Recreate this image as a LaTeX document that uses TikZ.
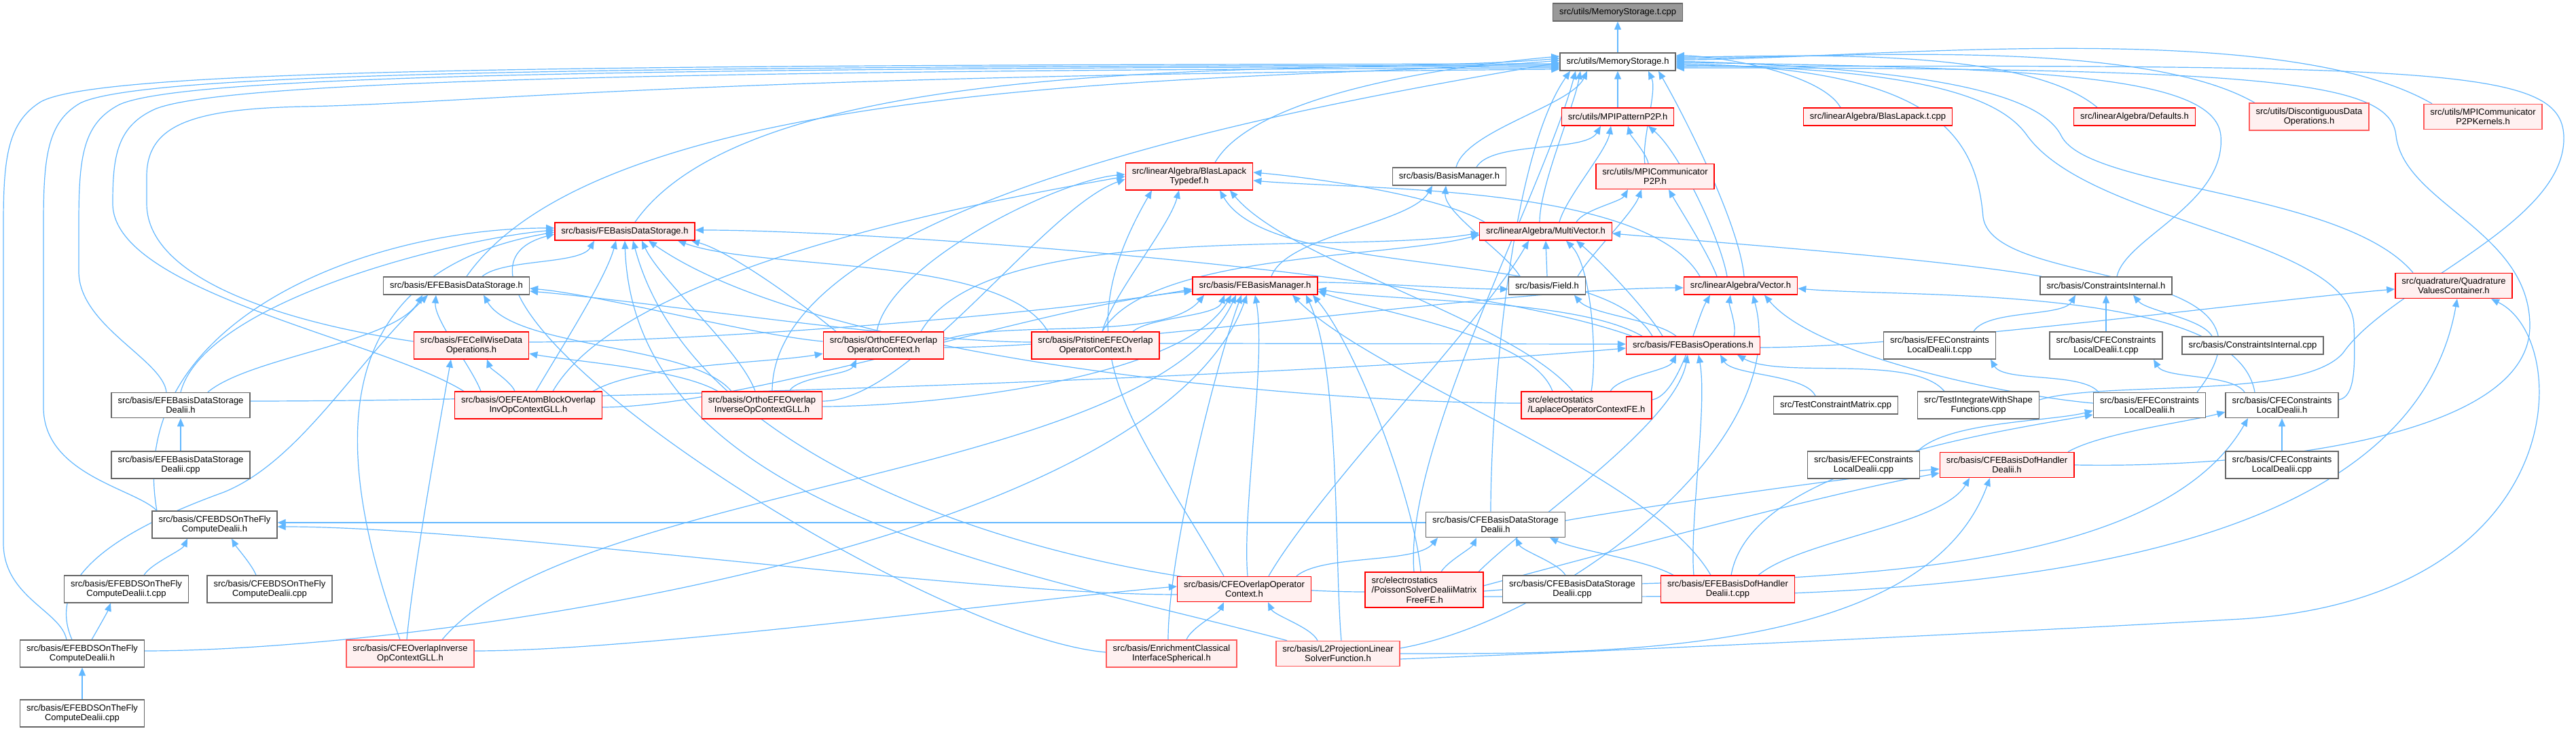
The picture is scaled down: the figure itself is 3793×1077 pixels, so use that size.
\documentclass[tikz,border=0pt]{standalone}
\usepackage{fontspec}
\setmainfont{Liberation Sans}
\usepackage{tikz}
\usetikzlibrary{arrows.meta}
\definecolor{depblue}{HTML}{63B8FF}
\definecolor{boxred}{HTML}{FF0000}
\definecolor{boxsoftred}{HTML}{FF5A5A}
\definecolor{boxpink}{HTML}{FFF0F0}
\definecolor{boxgray}{HTML}{666666}
\definecolor{rootgray}{HTML}{999999}
\pgfdeclarelayer{background}
\pgfsetlayers{background,main}
\tikzset{every node/.append style={font=\fontsize{3.25}{3.625}\selectfont}}
\tikzset{
  filebox/.style={draw,line width=0.375pt,inner xsep=2.375pt,inner ysep=1.625pt,minimum height=6.5pt,align=center},
  graybox/.style={filebox,draw=boxgray,fill=white},
  redbox/.style={filebox,draw=boxred,fill=boxpink},
  softbox/.style={filebox,draw=boxsoftred,fill=boxpink},
  rootbox/.style={filebox,draw=boxgray,fill=rootgray},
  dep/.style={draw=depblue,line width=0.3pt,{Triangle[length=3pt,width=2.5pt]}-,looseness=0.6}
}

\begin{document}
\begin{tikzpicture}[x=0.25pt,y=-0.25pt]
  \path[use as bounding box] (0,0) rectangle (3793,1077);
  \node[rootbox] (tcpp) at (2382,18) {src/utils/MemoryStorage.t.cpp};
  \node[graybox] (ms) at (2382,91) {src/utils/MemoryStorage.h};
  \node[redbox] (p2p) at (2382,172) {src/utils/MPIPatternP2P.h};
  \node[redbox] (blcpp) at (2765,172) {src/linearAlgebra/BlasLapack.t.cpp};
  \node[redbox] (defs) at (3143,172) {src/linearAlgebra/Defaults.h};
  \node[softbox] (ddo) at (3400,172) {src/utils/DiscontiguousData\\Operations.h};
  \node[softbox] (kern) at (3656,172) {src/utils/MPICommunicator\\P2PKernels.h};
  \node[redbox] (blt) at (1751,260) {src/linearAlgebra/BlasLapack\\Typedef.h};
  \node[graybox] (bm) at (2134,260) {src/basis/BasisManager.h};
  \node[redbox] (comm) at (2437,260) {src/utils/MPICommunicator\\P2P.h};
  \node[redbox] (febds) at (920,341) {src/basis/FEBasisDataStorage.h};
  \node[redbox] (mv) at (2276,341) {src/linearAlgebra/MultiVector.h};
  \node[graybox] (efebds) at (672,421) {src/basis/EFEBasisDataStorage.h};
  \node[redbox] (febm) at (1848,421) {src/basis/FEBasisManager.h};
  \node[graybox] (field) at (2278,421) {src/basis/Field.h};
  \node[redbox] (vec) at (2563,421) {src/linearAlgebra/Vector.h};
  \node[graybox] (ci) at (3101,421) {src/basis/ConstraintsInternal.h};
  \node[redbox] (qvc) at (3613,421) {src/quadrature/Quadrature\\ValuesContainer.h};
  \node[redbox] (fecw) at (694,509) {src/basis/FECellWiseData\\Operations.h};
  \node[redbox] (oeoc) at (1301,509) {src/basis/OrthoEFEOverlap\\OperatorContext.h};
  \node[redbox] (peoc) at (1613,509) {src/basis/PristineEFEOverlap\\OperatorContext.h};
  \node[redbox] (febo) at (2493,509) {src/basis/FEBasisOperations.h};
  \node[graybox] (efecltcpp) at (2856,509) {src/basis/EFEConstraints\\LocalDealii.t.cpp};
  \node[graybox] (cfecltcpp) at (3101,509) {src/basis/CFEConstraints\\LocalDealii.t.cpp};
  \node[graybox] (cicpp) at (3317,509) {src/basis/ConstraintsInternal.cpp};
  \node[graybox] (efebdsd) at (266,597) {src/basis/EFEBasisDataStorage\\Dealii.h};
  \node[redbox] (oeab) at (778,597) {src/basis/OEFEAtomBlockOverlap\\InvOpContextGLL.h};
  \node[redbox] (oeinv) at (1122,597) {src/basis/OrthoEFEOverlap\\InverseOpContextGLL.h};
  \node[redbox,align=left] (lap) at (2336,597) {src/electrostatics\\/LaplaceOperatorContextFE.h};
  \node[graybox] (tcm) at (2703,597) {src/TestConstraintMatrix.cpp};
  \node[graybox] (tiws) at (2913,597) {src/TestIntegrateWithShape\\Functions.cpp};
  \node[graybox] (efecl) at (3165,597) {src/basis/EFEConstraints\\LocalDealii.h};
  \node[graybox] (cfecl) at (3360,597) {src/basis/CFEConstraints\\LocalDealii.h};
  \node[graybox] (efebdsdcpp) at (266,685) {src/basis/EFEBasisDataStorage\\Dealii.cpp};
  \node[graybox] (efeclcpp) at (2744,685) {src/basis/EFEConstraints\\LocalDealii.cpp};
  \node[redbox] (cfedof) at (2955,685) {src/basis/CFEBasisDofHandler\\Dealii.h};
  \node[graybox] (cfeclcpp) at (3360,685) {src/basis/CFEConstraints\\LocalDealii.cpp};
  \node[graybox] (cfebdsotf) at (316,773) {src/basis/CFEBDSOnTheFly\\ComputeDealii.h};
  \node[graybox] (cfebdsd) at (2202,773) {src/basis/CFEBasisDataStorage\\Dealii.h};
  \node[graybox] (efebdsotftcpp) at (186,868) {src/basis/EFEBDSOnTheFly\\ComputeDealii.t.cpp};
  \node[graybox] (cfebdsotfcpp) at (397,868) {src/basis/CFEBDSOnTheFly\\ComputeDealii.cpp};
  \node[redbox] (cfeoc) at (1832,868) {src/basis/CFEOverlapOperator\\Context.h};
  \node[redbox,align=left] (poisson) at (2097,869) {src/electrostatics\\/PoissonSolverDealiiMatrix\\\hspace*{12.75pt}FreeFE.h};
  \node[graybox] (cfebdsdcpp) at (2315,868) {src/basis/CFEBasisDataStorage\\Dealii.cpp};
  \node[redbox] (efedoftcpp) at (2544,868) {src/basis/EFEBasisDofHandler\\Dealii.t.cpp};
  \node[graybox] (efebdsotf) at (121,963) {src/basis/EFEBDSOnTheFly\\ComputeDealii.h};
  \node[softbox] (cfeinv) at (604,963) {src/basis/CFEOverlapInverse\\OpContextGLL.h};
  \node[softbox] (enrich) at (1725,963) {src/basis/EnrichmentClassical\\InterfaceSpherical.h};
  \node[softbox] (l2) at (1970,963) {src/basis/L2ProjectionLinear\\SolverFunction.h};
  \node[graybox] (efebdsotfcpp) at (121,1051) {src/basis/EFEBDSOnTheFly\\ComputeDealii.cpp};

  \begin{pgfonlayer}{background}
  \fill[white] (0,0) rectangle (3793,1077);
  \draw[dep] (tcpp.south) -- (ms.north);
  \draw[dep] (ms.south) -- (p2p.north);
  \draw[dep] ([xshift=-11.25pt]ms.south) to[out=-115,in=75] ([xshift=2.5pt]bm.north);
  \draw[dep] ([xshift=-13.75pt]ms.south) to[out=-100,in=90] ([xshift=-2.25pt]mv.north);
  \draw[dep] ([xshift=-15.5pt]ms.south) to[out=-105,in=95] ([xshift=-3.75pt]poisson.north);
  \draw[dep] ([xshift=-17.5pt]ms.south) to[out=-125,in=90] ([xshift=-1.75pt]cfebdsd.north);
  \draw[dep] ([xshift=11.25pt]ms.south) to[out=-65,in=100] ([xshift=-3.75pt]comm.north);
  \draw[dep] ([xshift=15pt]ms.south) to[out=-60,in=95] ([xshift=1.25pt]vec.north);
  \draw[dep] ([yshift=2pt]ms.west) to[out=185,in=60] ([xshift=9.5pt]blt.north);
  \draw[dep] ([yshift=1.25pt]ms.west) to[out=185,in=55] ([xshift=3.75pt]febds.north);
  \draw[dep] ([yshift=0.5pt]ms.west) to[out=185,in=55] ([xshift=3.75pt]efebds.north);
  \draw[dep] ([yshift=-0.25pt]ms.west) to[out=190,in=90] ([xshift=3.75pt]oeinv.north);
  \draw[dep] ([yshift=-0.75pt]ms.west) .. controls (900,96) and (150,100) .. (60,150)
    .. controls (12,180) and (5,230) .. (5,330) -- (5,800)
    .. controls (5,880) and (90,900) .. ([xshift=-5.75pt]efebdsotf.north);
  \draw[dep] ([yshift=-1.25pt]ms.west) .. controls (900,98) and (210,106) .. (118,152)
    .. controls (70,180) and (64,230) .. (64,330) -- (64,600)
    .. controls (64,700) and (200,720) .. ([xshift=-21.25pt]cfebdsotf.north);
  \draw[dep] ([yshift=-1.75pt]ms.west) .. controls (900,100) and (270,112) .. (176,154)
    .. controls (122,182) and (116,230) .. (116,330) -- (116,400)
    .. controls (116,480) and (240,530) .. ([xshift=-5.25pt]efebdsd.north);
  \draw[dep] ([yshift=-2.25pt]ms.west) .. controls (900,104) and (330,122) .. (230,160)
    .. controls (172,185) and (166,230) .. (166,300)
    .. controls (166,430) and (560,500) .. ([xshift=-23.75pt]oeab.north);
  \draw[dep] ([yshift=-2.75pt]ms.west) .. controls (1000,112) and (700,152) .. (450,157)
    .. controls (280,160) and (216,185) .. (216,260) -- (216,300)
    .. controls (216,420) and (450,480) .. ([yshift=1.5pt]fecw.west);
  \draw[dep] ([yshift=2.25pt]ms.east) to[out=0,in=120] ([xshift=-13.75pt]blcpp.north);
  \draw[dep] ([yshift=1.75pt]ms.east) to[out=0,in=140] ([xshift=-13.75pt]defs.north);
  \draw[dep] ([yshift=1.25pt]ms.east) to[out=0,in=150] ([xshift=-20pt]ddo.north);
  \draw[dep] ([yshift=0.75pt]ms.east) to[out=0,in=150] ([xshift=-18.75pt]kern.north);
  \draw[dep] ([yshift=0.25pt]ms.east) .. controls (2800,100) and (3000,130) .. (3035,200)
    .. controls (3075,280) and (3450,280) .. ([xshift=-15pt]qvc.north);
  \draw[dep] ([yshift=-0.25pt]ms.east) .. controls (3000,100) and (3262,110) .. (3270,200)
    .. controls (3278,300) and (3130,350) .. ([xshift=4pt]ci.north);
  \draw[dep] ([yshift=-0.75pt]ms.east) .. controls (2850,100) and (2910,200) .. (2920,320)
    .. controls (2935,430) and (3390,380) .. ([xshift=17.5pt]efecl.north);
  \draw[dep] ([yshift=-1.25pt]ms.east) .. controls (2850,100) and (2950,150) .. (2985,200)
    .. controls (3080,330) and (3462,350) .. (3466,480)
    .. controls (3468,540) and (3468,585) .. ([yshift=2pt]cfecl.east);
  \draw[dep] ([yshift=-1.75pt]ms.east) .. controls (3600,95) and (3770,100) .. (3775,200)
    .. controls (3780,330) and (3520,420) .. (3450,520)
    .. controls (3390,590) and (3100,560) .. ([yshift=2pt]tiws.east);
  \draw[dep] ([yshift=-2.25pt]ms.east) .. controls (3350,100) and (3520,120) .. (3528,200)
    .. controls (3540,300) and (3725,340) .. (3725,480)
    .. controls (3725,650) and (3300,690) .. (cfedof.east);
  \draw[dep] ([xshift=-6.25pt]p2p.south) to[out=-120,in=60] ([xshift=10pt]bm.north);
  \draw[dep] ([xshift=-2.5pt]p2p.south) to[out=-100,in=75] ([xshift=5pt]mv.north);
  \draw[dep] ([xshift=3.75pt]p2p.south) to[out=-75,in=100] ([xshift=-2.5pt]comm.north);
  \draw[dep] ([xshift=11.25pt]p2p.south) to[out=-40,in=100] ([xshift=-5pt]vec.north);
  \draw[dep] ([xshift=-10pt]comm.south) to[out=-120,in=60] ([xshift=11.25pt]mv.north);
  \draw[dep] ([xshift=-5pt]comm.south) to[out=-110,in=60] ([xshift=11.25pt]field.north);
  \draw[dep] ([xshift=5pt]comm.south) to[out=-60,in=110] ([xshift=-8.75pt]vec.north);
  \draw[dep] ([yshift=0.75pt]blt.west) to[out=185,in=80] ([xshift=-2.5pt]oeoc.north);
  \draw[dep] (blt.west) to[out=190,in=60] ([xshift=9pt]oeab.north);
  \draw[dep] ([yshift=-1pt]blt.west) to[out=200,in=0] ([yshift=1.5pt]oeinv.east);
  \draw[dep] ([xshift=-13.75pt]blt.south) to[out=-120,in=120,looseness=1.2] ([xshift=-7.5pt]cfeoc.north);
  \draw[dep] ([xshift=-3.75pt]blt.south) to[out=-105,in=75] ([xshift=2.5pt]peoc.north);
  \draw[dep] ([xshift=11.25pt]blt.south) to[out=-60,in=120] ([xshift=-15pt]febo.north);
  \draw[dep] ([xshift=15pt]blt.south) to[out=-50,in=130] ([xshift=-5pt]lap.north);
  \draw[dep] ([yshift=1.5pt]blt.east) to[out=-5,in=150] ([xshift=-22.5pt]mv.north);
  \draw[dep] ([yshift=-1.5pt]blt.east) to[out=-5,in=120] ([xshift=-15pt]vec.north);
  \draw[dep] ([xshift=-6.25pt]bm.south) to[out=-120,in=70] ([xshift=6pt]febm.north);
  \draw[dep] ([xshift=-1.25pt]bm.south) to[out=-95,in=120] ([xshift=-10pt]field.north);
  \draw[dep] ([yshift=-0.5pt]mv.west) to[out=190,in=60] ([xshift=13.75pt]oeoc.north);
  \draw[dep] ([yshift=-1.25pt]mv.west) to[out=195,in=60] ([xshift=2.5pt]peoc.north);
  \draw[dep] ([xshift=-6.25pt]mv.south) to[out=-120,in=60] ([xshift=9pt]cfeoc.north);
  \draw[dep] (mv.south) -- (field.north);
  \draw[dep] ([xshift=7.5pt]mv.south) to[out=-45,in=80] ([xshift=1.75pt]lap.north);
  \draw[dep] ([xshift=11.25pt]mv.south) to[out=-40,in=120] ([xshift=-11.25pt]febo.north);
  \draw[dep] ([yshift=-0.75pt]mv.east) to[out=-5,in=170] ([xshift=-23.75pt]ci.north);
  \draw[dep] ([yshift=-1.25pt]febm.west) to[out=190,in=0] ([yshift=1.25pt]fecw.east);
  \draw[dep] ([yshift=-2pt]febm.west) to[out=185,in=0] ([yshift=-0.75pt]oeab.east);
  \draw[dep] ([xshift=-18.75pt]febm.south) to[out=-130,in=20] ([yshift=2pt]oeoc.east);
  \draw[dep] ([xshift=-11.25pt]febm.south) to[out=-110,in=40] ([xshift=13.75pt]peoc.north);
  \draw[dep] ([xshift=-8.75pt]febm.south) to[out=-120,in=0] ([yshift=-0.5pt]oeinv.east);
  \draw[dep] ([xshift=-7pt]febm.south) to[out=-115,in=50] ([xshift=11.75pt]cfeinv.north);
  \draw[dep] ([xshift=-5pt]febm.south) to[out=-110,in=90] ([xshift=-1.25pt]enrich.north);
  \draw[dep] ([xshift=-3pt]febm.south) to[out=-110,in=0] ([yshift=1pt]efebdsotf.east);
  \draw[dep] (febm.south) to[out=-80,in=95] ([xshift=1.25pt]cfeoc.north);
  \draw[dep] ([xshift=13.75pt]febm.south) to[out=-45,in=120] ([xshift=-6.25pt]efedoftcpp.north);
  \draw[dep] ([xshift=18.75pt]febm.south) to[out=-65,in=95] ([xshift=1.25pt]l2.north);
  \draw[dep] ([xshift=21.25pt]febm.south) to[out=-50,in=95] ([xshift=-1.25pt]poisson.north);
  \draw[dep] ([yshift=-1.25pt]febm.east) to[out=-10,in=150] ([xshift=-18.75pt]febo.north);
  \draw[dep] ([yshift=-2pt]febm.east) to[out=-20,in=110] ([xshift=-12.5pt]lap.north);
  \draw[dep] ([yshift=-1.25pt]field.west) to[out=180,in=0] ([yshift=1.25pt]febm.east);
  \draw[dep] ([xshift=10pt]field.south) to[out=-50,in=140] ([xshift=-6.25pt]febo.north);
  \draw[dep] ([yshift=1.25pt]febds.west) to[out=180,in=100,looseness=1] ([xshift=-21.25pt]cfebdsotf.north);
  \draw[dep] ([yshift=0.5pt]febds.west) to[out=185,in=75] (efebdsd.north);
  \draw[dep] ([yshift=-0.25pt]febds.west) to[out=190,in=110,looseness=1.3] ([xshift=-3.75pt]cfeinv.north);
  \draw[dep] ([yshift=-1pt]febds.west) to[out=195,in=175,looseness=0.7] ([yshift=0.5pt]enrich.west);
  \draw[dep] ([xshift=-11.25pt]febds.south) to[out=-120,in=40] ([xshift=9.5pt]efebds.north);
  \draw[dep] ([xshift=-3.25pt]febds.south) to[out=-105,in=60] ([xshift=2.75pt]oeab.north);
  \draw[dep] (febds.south) to[out=-88,in=165,looseness=0.9] ([xshift=-18.75pt]l2.north);
  \draw[dep] ([xshift=3pt]febds.south) to[out=-75,in=180,looseness=0.8] ([yshift=-0.75pt]poisson.west);
  \draw[dep] ([xshift=6.25pt]febds.south) to[out=-65,in=110] ([xshift=-2.5pt]oeinv.north);
  \draw[dep] ([xshift=8.75pt]febds.south) to[out=-35,in=180] ([yshift=0.75pt]lap.west);
  \draw[dep] ([xshift=19.5pt]febds.south) to[out=-20,in=120] ([xshift=-17.5pt]peoc.north);
  \draw[dep] ([xshift=24.5pt]febds.south) to[out=-15,in=140] ([xshift=-17.5pt]oeoc.north);
  \draw[dep] ([yshift=0.5pt]febds.east) to[out=0,in=160,looseness=0.5] ([xshift=-22.5pt]febo.north);
  \draw[dep] ([xshift=-12.5pt]efebds.south) to[out=-120,in=40] ([xshift=10pt]efebdsd.north);
  \draw[dep] ([xshift=-10.5pt]efebds.south) .. controls (520,540) and (440,680) .. (330,725)
    .. controls (150,790) and (70,860) .. ([xshift=-3.75pt]efebdsotf.north);
  \draw[dep] ([xshift=-7.5pt]efebds.south) to[out=-95,in=110] ([xshift=-17.5pt]oeab.north);
  \draw[dep] ([xshift=10pt]efebds.south) to[out=-60,in=130] ([xshift=-11.25pt]oeinv.north);
  \draw[dep] ([yshift=-1pt]efebds.east) to[out=-5,in=175] ([yshift=1.5pt]oeoc.west);
  \draw[dep] ([yshift=-2pt]efebds.east) to[out=-5,in=180] ([yshift=1.25pt]peoc.west);
  \draw[dep] ([xshift=-7.5pt]fecw.south) to[out=-100,in=85] ([xshift=-1.25pt]cfeinv.north);
  \draw[dep] ([xshift=5.75pt]fecw.south) to[out=-70,in=110] ([xshift=-5pt]oeab.north);
  \draw[dep] ([yshift=-3pt]fecw.east) to[out=-10,in=150] ([xshift=-16.25pt]oeinv.north);
  \draw[dep] ([yshift=-3pt]oeoc.west) to[out=190,in=30] ([xshift=23.75pt]oeab.north);
  \draw[dep] ([xshift=-10pt]oeoc.south) to[out=-115,in=60] ([xshift=10pt]oeinv.north);
  \draw[dep] ([xshift=-11.25pt]ci.south) to[out=-120,in=60] ([xshift=12.5pt]efecltcpp.north);
  \draw[dep] (ci.south) -- (cfecltcpp.north);
  \draw[dep] ([xshift=10pt]ci.south) to[out=-50,in=120] ([xshift=-15pt]cicpp.north);
  \draw[dep] ([xshift=18.75pt]efecltcpp.south) to[out=-60,in=130] ([xshift=-18.75pt]efecl.north);
  \draw[dep] ([xshift=17.5pt]cfecltcpp.south) to[out=-60,in=125] ([xshift=-13.75pt]cfecl.north);
  \draw[dep] ([yshift=-2pt]efecl.west) to[out=195,in=45] ([xshift=20pt]efeclcpp.north);
  \draw[dep] ([yshift=-3.5pt]efecl.west) to[out=190,in=80,looseness=0.7] ([xshift=1.25pt]efedoftcpp.north);
  \draw[dep] ([yshift=-2.5pt]cfecl.west) to[out=195,in=30] ([xshift=22.5pt]cfedof.north);
  \draw[dep] (cfecl.south) -- (cfeclcpp.north);
  \draw[dep] ([xshift=-12.5pt]cfecl.south) to[out=-120,in=5,looseness=0.7] ([yshift=-0.5pt]poisson.east);
  \draw[dep] ([yshift=-1.5pt]cfedof.west) to[out=185,in=10] ([yshift=1.5pt]cfebdsd.east);
  \draw[dep] ([yshift=-3pt]cfedof.west) to[out=190,in=15] ([yshift=1.5pt]poisson.east);
  \draw[dep] ([xshift=-13.75pt]cfedof.south) to[out=-120,in=40] ([xshift=11.25pt]efedoftcpp.north);
  \draw[dep] ([xshift=-6.25pt]cfedof.south) to[out=-110,in=0,looseness=0.8] (l2.east);
  \draw[dep] ([xshift=-21.25pt]cfebdsd.south) to[out=-130,in=40] ([xshift=19.25pt]cfeoc.north);
  \draw[dep] ([xshift=-7pt]cfebdsd.south) to[out=-115,in=60] ([xshift=6.25pt]poisson.north);
  \draw[dep] ([xshift=7.5pt]cfebdsd.south) to[out=-65,in=120] ([xshift=-2.5pt]cfebdsdcpp.north);
  \draw[dep] ([xshift=20pt]cfebdsd.south) to[out=-25,in=150] ([xshift=-20pt]efedoftcpp.north);
  \draw[dep] ([yshift=0.75pt]cfebdsotf.east) to[out=0,in=180] ([yshift=0.75pt]cfebdsd.west);
  \draw[dep] ([yshift=-0.75pt]cfebdsotf.east) to[out=0,in=180] ([yshift=-2pt]cfeoc.west);
  \draw[dep] ([xshift=-10pt]cfebdsotf.south) to[out=-115,in=60] ([xshift=6.5pt]efebdsotftcpp.north);
  \draw[dep] ([xshift=6.25pt]cfebdsotf.south) to[out=-60,in=110] ([xshift=-5pt]cfebdsotfcpp.north);
  \draw[dep] ([xshift=-5.75pt]efebdsotftcpp.south) to[out=-110,in=60] ([xshift=3.5pt]efebdsotf.north);
  \draw[dep] (efebdsotf.south) -- (efebdsotfcpp.north);
  \draw[dep] (efebdsd.south) -- (efebdsdcpp.north);
  \draw[dep] ([yshift=1pt]cfeoc.west) to[out=185,in=0] ([yshift=1pt]cfeinv.east);
  \draw[dep] ([xshift=-7.5pt]cfeoc.south) to[out=-115,in=70] ([xshift=5.5pt]enrich.north);
  \draw[dep] ([xshift=8.75pt]cfeoc.south) to[out=-65,in=115] ([xshift=-7.5pt]l2.north);
  \draw[dep] ([xshift=-6.25pt]febo.south) to[out=-115,in=60] ([xshift=8.75pt]lap.north);
  \draw[dep] ([xshift=-2pt]febo.south) to[out=-100,in=45] ([xshift=20pt]poisson.north);
  \draw[dep] ([xshift=2pt]febo.south) to[out=-80,in=95] ([xshift=-12.5pt]efedoftcpp.north);
  \draw[dep] ([xshift=10pt]febo.south) to[out=-60,in=115] ([xshift=-7.5pt]tcm.north);
  \draw[dep] ([xshift=16.25pt]febo.south) to[out=-30,in=130] ([xshift=-12.5pt]tiws.north);
  \draw[dep] ([yshift=0.5pt]febo.west) to[out=180,in=0] ([yshift=0.75pt]peoc.east);
  \draw[dep] ([yshift=-1pt]febo.west) to[out=185,in=0] ([yshift=1.5pt]efebdsd.east);
  \draw[dep] ([yshift=-0.75pt]vec.west) to[out=180,in=0] ([yshift=-0.75pt]oeoc.east);
  \draw[dep] ([xshift=-3.75pt]vec.south) to[out=-100,in=70] ([xshift=15pt]febo.north);
  \draw[dep] ([xshift=-11.25pt]vec.south) to[out=-120,in=10] ([yshift=2pt]lap.east);
  \draw[dep] ([xshift=4.5pt]vec.south) to[out=-75,in=10,looseness=0.8] ([yshift=2pt]l2.east);
  \draw[dep] ([xshift=8.75pt]vec.south) to[out=-50,in=175] ([yshift=0.75pt]efecl.west);
  \draw[dep] ([yshift=-1pt]vec.east) to[out=-5,in=100] ([xshift=-10pt]cfecl.north);
  \draw[dep] ([yshift=-1.25pt]qvc.west) to[out=185,in=0] ([yshift=-0.75pt]febo.east);
  \draw[dep] ([xshift=1.25pt]qvc.south) to[out=-100,in=0,looseness=0.8] ([yshift=-2.5pt]poisson.east);
  \draw[dep] ([xshift=13.75pt]qvc.south) .. controls (3790,500) and (3790,880) .. (3300,912)
    .. controls (2800,940) and (2300,962) .. ([yshift=-2pt]l2.east);
  \end{pgfonlayer}
\end{tikzpicture}
\end{document}
